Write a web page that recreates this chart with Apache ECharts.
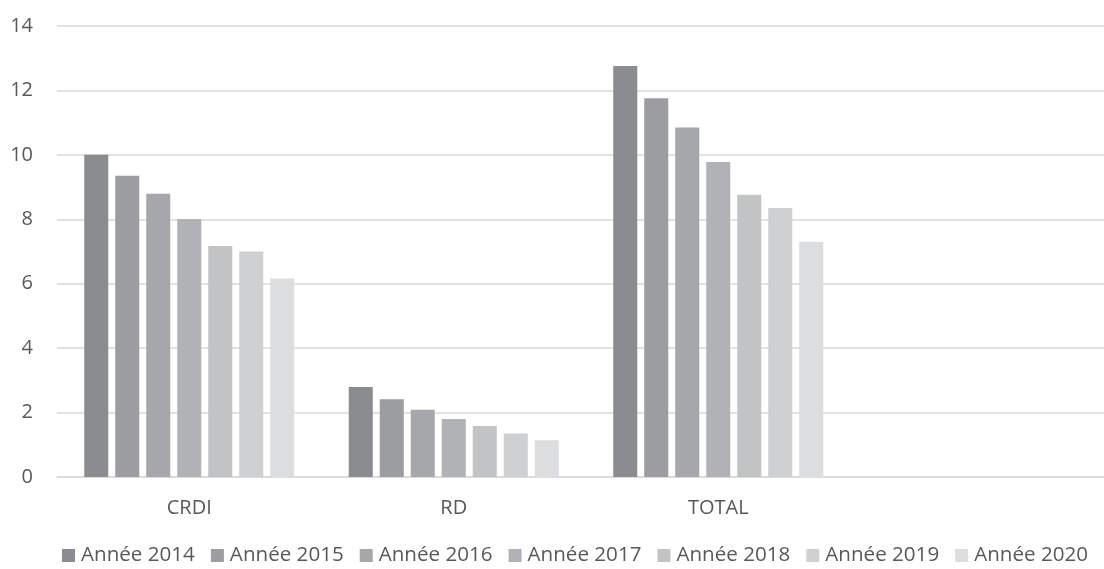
<!DOCTYPE html>
<html>
<head>
<meta charset="utf-8">
<script src="https://cdn.jsdelivr.net/npm/echarts@6/dist/echarts.min.js"></script>
<style>html,body{margin:0;padding:0;background:#fff;overflow:hidden;width:1104px;height:569px;}#c{width:1115px;height:569px;}</style>
</head>
<body>
<div id="c"></div>
<script>
const categories = ['CRDI', 'RD', 'TOTAL', ''];
const seriesNames = ['Année 2014', 'Année 2015', 'Année 2016', 'Année 2017', 'Année 2018', 'Année 2019', 'Année 2020'];
const y2014 = [10.0, 2.79, 12.76];
const y2015 = [9.35, 2.41, 11.76];
const y2016 = [8.79, 2.09, 10.85];
const y2017 = [8.01, 1.80, 9.78];
const y2018 = [7.17, 1.58, 8.76];
const y2019 = [7.0, 1.35, 8.35];
const y2020 = [6.16, 1.14, 7.30];
const colors = ['#8b8c8f', '#9c9da0', '#a6a7aa', '#b1b2b5', '#c2c3c5', '#cfd0d2', '#dcdddf'];

const allData = [y2014, y2015, y2016, y2017, y2018, y2019, y2020];
const font = 'Open Sans';
const chart = echarts.init(document.getElementById('c'), null, {renderer: 'canvas'});
chart.setOption({
  animation: false,
  backgroundColor: '#ffffff',
  color: colors,
  textStyle: {fontFamily: font},
  grid: {left: 57, top: 26, bottom: 92, right: 0, containLabel: false},
  legend: {
    data: seriesNames,
    left: 57, top: 540, width: 1054,
    itemWidth: 13, itemHeight: 13, itemGap: 16,
    icon: 'rect',
    textStyle: {fontFamily: font, fontSize: 20.6, color: '#595959', padding: [0, 0, 0, 1]}
  },
  xAxis: {
    type: 'category',
    data: categories,
    axisLine: {lineStyle: {color: '#d9d9d9', width: 1.5}},
    axisTick: {show: false},
    axisLabel: {color: '#595959', fontSize: 20, fontFamily: font, margin: 21}
  },
  yAxis: {
    type: 'value',
    min: 0, max: 14, interval: 2,
    axisLine: {show: false},
    axisTick: {show: false},
    splitLine: {lineStyle: {color: '#d9d9d9', width: 1.5}},
    axisLabel: {color: '#595959', fontSize: 20, fontFamily: font, margin: 24}
  },
  series: seriesNames.map((n, i) => ({
    name: n,
    type: 'bar',
    data: allData[i],
    barGap: '29%',
    barCategoryGap: '20.6%',
    itemStyle: {color: colors[i]}
  }))
});
</script>
</body>
</html>
